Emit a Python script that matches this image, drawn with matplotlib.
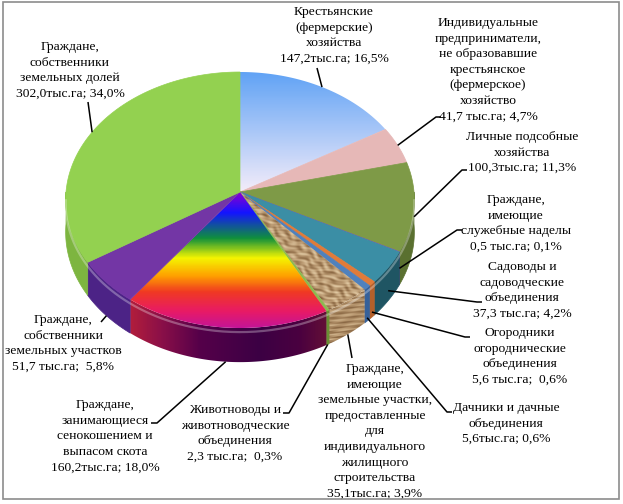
import numpy as np
import matplotlib
matplotlib.use("Agg")
import matplotlib.pyplot as plt
from matplotlib.patches import Polygon, Rectangle
from matplotlib.colors import LinearSegmentedColormap, to_rgb

# slices, clockwise from 12 o'clock
names = [
    "Крестьянские\n(фермерские)\nхозяйства",
    "Индивидуальные\nпредприниматели,\nне образовавшие\nкрестьянское\n(фермерское)\nхозяйство",
    "Личные подсобные\nхозяйства",
    "Граждане,\nимеющие\nслужебные наделы",
    "Садоводы и\nсадоводческие\nобъединения",
    "Огородники\nогороднические\nобъединения",
    "Дачники и дачные\nобъединения",
    "Граждане,\nимеющие\nземельные участки,\nпредоставленные\nдля\nиндивидуального\nжилищного\nстроительства",
    "Животноводы и\nживотноводческие\nобъединения",
    "Граждане,\nзанимающиеся\nсенокошением и\nвыпасом скота",
    "Граждане,\nсобственники\nземельных участков",
    "Граждане,\nсобственники\nземельных долей",
]
area = [147.2, 41.7, 100.3, 0.5, 37.3, 5.6, 5.6, 35.1, 2.3, 160.2, 51.7, 302.0]   # тыс. га
share = [16.5, 4.7, 11.3, 0.1, 4.2, 0.6, 0.6, 3.9, 0.3, 18.0, 5.8, 34.0]          # %
value_fmt = ["{v}тыс.га; {p}%", "{v} тыс.га; {p}%", "{v}тыс.га; {p}%", "{v} тыс.га; {p}%",
             "{v} тыс.га; {p}%", "{v} тыс.га;  {p}%", "{v}тыс.га; {p}%", "{v}тыс.га; {p}%",
             "{v} тыс.га;  {p}%", "{v}тыс.га; {p}%", "{v} тыс.га;  {p}%", "{v}тыс.га; {p}%"]

# styles
top_colors = ["grad", "#e6b8b7", "#7e9a47", "#8064a2", "#3b8ea5", "#e07b39",
              "#4f81bd", "wood", "#8cb84f", "rainbow", "#7336a5", "#93d150"]
side_colors = [None, None, "#5a7030", "#5a4478", "#1f5563", "#b5602a",
               "#36619a", "wood", "#6a9034", "rainbow", "#4c2386", "#7db540"]

# layout (pixels)
cx, cy, rx, ry, depth, k = 240, 192, 174, 127.5, 32, 0.0625
label_xy = [(334, 12), (488, 23), (522, 137), (516, 200), (522, 267), (520, 333),
            (506, 408), (375, 369), (235, 410), (105, 405), (63, 320), (70, 47)]
leader_from = [[(317, 68)], [(441, 117), (436, 117)], [(467, 170), (462, 170)],
               [(462, 230), (457, 230)], [(482, 302), (477, 302)], [(470, 337), (465, 337)],
               [(452, 412), (447, 412)], [(352, 358)], [(283, 413), (289, 413)],
               [(151, 423), (157, 423)], [(101, 322)], [(88, 102)]]
leader_drop = [0, 0, 0.3, 0.5, 0.7, 0.85, 0.9, 1, 1, 1, 1, 0]
line_step = 15.6


def proj(theta, drop=0.0):
    t = np.radians(theta)
    u, v = np.sin(t), np.cos(t)
    w = 1 + k * v
    return cx + rx * u / w, cy - ry * v / w + drop * depth / w


def arc(a0, a1, drop=0.0):
    n = max(3, int(abs(a1 - a0) * 2) + 2)
    th = np.linspace(a0, a1, n)
    x, y = proj(th, drop)
    return np.column_stack([x, y])


fig = plt.figure(figsize=(6.23, 5.04), dpi=100)
ax = fig.add_axes([0, 0, 1, 1])
ax.axis("off")


def clip_image(poly, img, z):
    x0, y0 = poly.min(axis=0) - 1
    x1, y1 = poly.max(axis=0) + 1
    im = ax.imshow(img(x0, x1, y0, y1), extent=(x0, x1, y1, y0), origin="upper",
                   zorder=z, interpolation="bilinear")
    im.set_clip_path(Polygon(poly, closed=True, transform=ax.transData))


def grid(x0, x1, y0, y1):
    X, Y = np.meshgrid(np.arange(x0, x1 + 1), np.arange(y0, y1 + 1))
    return X, Y


def gradient(coords, colors, along):
    c = np.array(coords, float)
    cmap = LinearSegmentedColormap.from_list("g", list(zip((c - c[0]) / (c[-1] - c[0]), colors)))

    def make(x0, x1, y0, y1):
        X, Y = grid(x0, x1, y0, y1)
        t = (Y if along == "y" else X) - c[0]
        return cmap(np.clip(t / (c[-1] - c[0]), 0, 1))
    return make


def wood(side):
    cmap = LinearSegmentedColormap.from_list("w", ["#5e4128", "#8d6a45", "#bf9f77", "#e2cba5"])

    def make(x0, x1, y0, y1):
        X, Y = grid(x0, x1, y0, y1)
        if side:
            v = (0.5 * np.sin(1.3 * Y + 1.2 * np.sin(0.09 * X))
                 + 0.3 * np.sin(2.7 * Y + 0.4 * X)
                 + 0.2 * np.sin(0.31 * X + 0.5 * Y))
            v = 0.2 + 0.35 * (v + 1)
        else:
            a = np.radians(35)
            up = X * np.cos(a) + Y * np.sin(a)
            pp = -X * np.sin(a) + Y * np.cos(a)
            v = (0.45 * np.sin(0.9 * pp + 2.2 * np.sin(0.13 * up) + np.sin(0.41 * up + 0.7))
                 + 0.3 * np.sin(0.47 * up + 1.9 * np.sin(0.33 * pp))
                 + 0.25 * np.sin(1.7 * pp + 0.9 * up + 2.0 * np.sin(0.21 * up)))
            v = 0.25 + 0.38 * (v + 1)
        return cmap(np.clip(v, 0, 1))
    return make


fills = {
    ("grad", False): gradient([72, 195], ["#61a3f5", "#f7eefa"], "y"),
    ("rainbow", False): gradient([192, 212, 238, 258, 276, 292, 312, 330],
                                 ["#8a00d0", "#1414ff", "#10903c", "#f5f500", "#ffa000",
                                  "#f03a22", "#e81a66", "#c0149c"], "y"),
    ("rainbow", True): gradient([125, 160, 200, 260, 300, 335],
                                ["#b8203a", "#8c1048", "#55004a", "#3c0044", "#4a0040", "#6a1434"], "x"),
    ("wood", False): wood(False),
    ("wood", True): wood(True),
}

bounds = np.concatenate([[0], np.cumsum(area)]) / np.sum(area) * 360

# sides (front half only)
for i in range(len(area)):
    s0, s1 = max(bounds[i], 90), min(bounds[i + 1], 270)
    if s0 >= s1:
        continue
    poly = np.vstack([arc(s0, s1), arc(s1, s0, 1.0)])
    c = side_colors[i]
    if (c, True) in fills:
        clip_image(poly, fills[(c, True)], 2)
    else:
        ax.add_patch(Polygon(poly, closed=True, fc=c, ec=c, lw=0.5, zorder=2))

# top faces
for i in range(len(area)):
    poly = np.vstack([[cx, cy], arc(bounds[i], bounds[i + 1])])
    c = top_colors[i]
    if (c, False) in fills:
        clip_image(poly, fills[(c, False)], 3)
    else:
        ax.add_patch(Polygon(poly, closed=True, fc=c, ec=c, lw=0.5, zorder=3))

# soft highlight on the front rim
rim = arc(92, 268, 0.12)
ax.plot(rim[:, 0], rim[:, 1], color="white", alpha=0.3, lw=1.6, zorder=4)

# labels and leader lines
for i, name in enumerate(names):
    v = f"{area[i]:.1f}".replace(".", ",")
    p = f"{share[i]:.1f}".replace(".", ",")
    lines = name.split("\n") + [value_fmt[i].format(v=v, p=p)]
    lx, ly = label_xy[i]
    for j, s in enumerate(lines):
        ax.text(lx, ly + j * line_step, s, ha="center", va="center", fontsize=9.7,
                family=["Liberation Serif", "DejaVu Serif"], color="black", zorder=6)
    mid = (bounds[i] + bounds[i + 1]) / 2
    end = proj(mid, leader_drop[i])
    pts = np.array(leader_from[i] + [end])
    ax.plot(pts[:, 0], pts[:, 1], color="black", lw=1.1, zorder=5, solid_capstyle="butt")

ax.add_patch(Rectangle((2.5, 1.5), 616, 497, fill=False, ec="#8c8c8c", lw=1.2, zorder=7))
ax.set_xlim(0, 623)
ax.set_ylim(504, 0)
ax.set_aspect("auto")

fig.savefig("out.png", dpi=100, facecolor="white")
